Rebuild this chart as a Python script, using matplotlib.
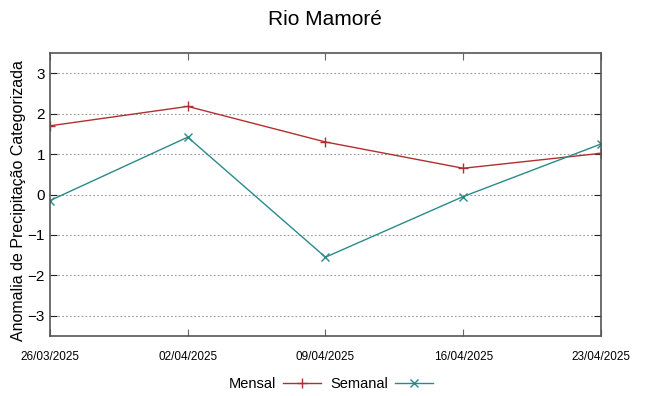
import matplotlib
matplotlib.use("Agg")
import matplotlib.pyplot as plt

# datas e anomalias
datas = ["26/03/2025", "02/04/2025", "09/04/2025", "16/04/2025", "23/04/2025"]
mensal = [1.70, 2.18, 1.30, 0.65, 1.02]
semanal = [-0.15, 1.42, -1.55, -0.05, 1.25]
yticks = [-3, -2, -1, 0, 1, 2, 3]

plt.rcParams['font.family'] = ['Liberation Sans', 'DejaVu Sans']

fig = plt.figure(figsize=(6.49, 3.96), dpi=100)
ax = fig.add_axes([0.077, 0.1515, 0.849, 0.7145])

x = list(range(len(datas)))
ax.plot(x, mensal, color='#b03030', lw=1.0, marker='+', ms=7, mew=1.0, label='Mensal')
ax.plot(x, semanal, color='#2a8a8a', lw=1.0, marker='x', ms=6, mew=1.0, label='Semanal')

ax.set_xlim(0, len(datas) - 1)
ax.set_ylim(-3.5, 3.5)
ax.set_xticks(x)
ax.set_xticklabels(datas, family=['Liberation Sans Narrow', 'Liberation Sans'], fontsize=8.5)
ax.set_yticks(yticks)
ax.tick_params(axis='y', labelsize=11, direction='in', right=True, length=5, color='#222222')
ax.tick_params(axis='x', direction='in', top=True, length=5, pad=11, color='#666666')
ax.yaxis.grid(True, ls=(0, (1.5, 2)), color='#999999', lw=0.8)
for s in ax.spines.values():
    s.set_color('#555555')
    s.set_linewidth(1.2)

ax.set_ylabel("Anomalia de Precipitação Categorizada", fontsize=11.5)
ax.yaxis.set_label_coords(-0.044, 0.477)
fig.suptitle("Rio Mamoré", fontsize=15, y=0.975)

fig.legend(loc='lower center', bbox_to_anchor=(0.51, -0.02), ncol=2, frameon=False,
           markerfirst=False, fontsize=10.5, handlelength=2.6, columnspacing=0.6,
           handletextpad=0.5)

fig.savefig("out.png", dpi=100)
